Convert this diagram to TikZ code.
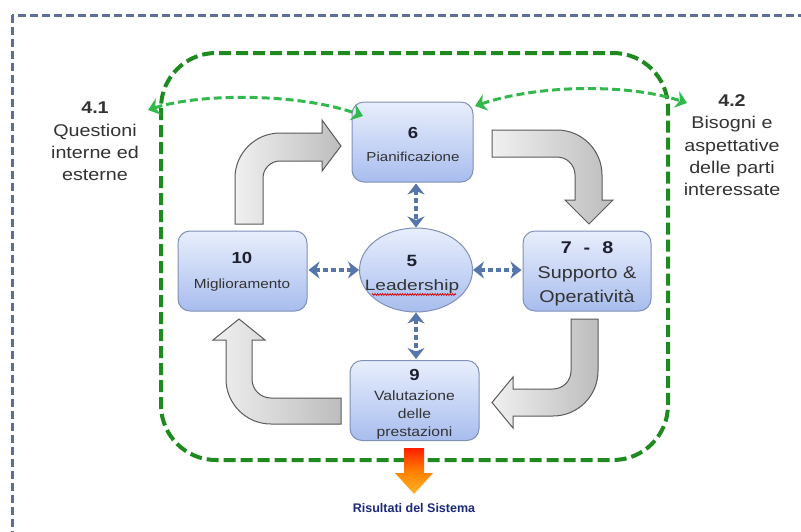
\documentclass[tikz,border=0pt]{standalone}
\usepackage{fontspec}
\setmainfont{Liberation Sans}
\newfontfamily\wfont[FakeStretch=1.16]{Liberation Sans}
\newfontfamily\wwfont[FakeStretch=1.27]{Liberation Sans}
\usetikzlibrary{arrows.meta,shapes.geometric,decorations.pathmorphing}
\definecolor{frameblue}{HTML}{5A7099}
\definecolor{dkgreen}{HTML}{1F8A1F}
\definecolor{ltgreen}{HTML}{33B84E}
\definecolor{boxtop}{HTML}{E8EEFC}
\definecolor{boxbot}{HTML}{A8BDEE}
\definecolor{boxline}{HTML}{8090B8}
\definecolor{linkblue}{HTML}{5675AA}
\definecolor{txt}{HTML}{333333}
\definecolor{numtxt}{HTML}{1E2030}
\definecolor{navy}{HTML}{1C2A7A}
\definecolor{arrlight}{HTML}{F0F0F0}
\definecolor{arrdark}{HTML}{BDBDBD}
\definecolor{arredge}{HTML}{5A5A5A}
\definecolor{resred}{HTML}{FF1E00}
\definecolor{resorange}{HTML}{FFB428}
\begin{document}
\begin{tikzpicture}[x=1pt,y=-1pt,
  procbox/.style={draw=boxline, line width=1pt, rounded corners=12pt,
    top color=boxtop, bottom color=boxbot, inner sep=0pt},
  tipb/.tip={Stealth[length=11pt,width=17pt,inset=3.5pt]},
  link/.style={draw=linkblue, line width=3.5pt, dash pattern=on 5pt off 3pt, tipb-tipb},
  envlink/.style={draw=ltgreen, line width=3pt, dash pattern=on 8pt off 4pt, tipb-tipb},
  bigarrow/.style={draw=arredge, line width=1pt, left color=arrlight, right color=arrdark},
  lbl/.style={align=center, text=txt, inner sep=0pt}
]
\useasboundingbox (0,0) rectangle (801,531);
\fill[white] (0,0) rectangle (801,531);
% outer frame
\begin{scope}
\clip (0,0) rectangle (801,531);
\draw[frameblue, line width=3pt, dash pattern=on 8pt off 4pt] (12,15) rectangle (830,560);
\end{scope}
% green system boundary
\draw[dkgreen, line width=4pt, dash pattern=on 12pt off 5pt, rounded corners=55pt] (161,53) rectangle (668,460);

% big grey cycle arrows
\draw[bigarrow] (235,224) -- (235,178) .. controls (235,153.15) and (255.15,133) .. (280,133)
  -- (322,133) -- (322,120) -- (341,146) -- (322,171) -- (322,161) -- (280,161)
  .. controls (270.6,161) and (263,168.6) .. (263,178) -- (263,224) -- cycle;
\draw[bigarrow] (492,130) -- (557,130) .. controls (581.85,130) and (602,150.15) .. (602,175)
  -- (602,200) -- (613,200) -- (589,224) -- (565,200) -- (575,200) -- (575,175)
  .. controls (575,165.1) and (566.9,157) .. (557,157) -- (492,157) -- cycle;
\draw[bigarrow] (571,319) -- (598,319) -- (598,371) .. controls (598,395.85) and (577.85,416) .. (553,416)
  -- (513,416) -- (513,428) -- (492,402.5) -- (513,377) -- (513,389) -- (553,389)
  .. controls (562.9,389) and (571,380.9) .. (571,371) -- cycle;
\draw[bigarrow] (341,398) -- (271,398) .. controls (260.5,398) and (252,389.5) .. (252,379)
  -- (252,340) -- (265,340) -- (239,319) -- (213,340) -- (226,340) -- (226,379)
  .. controls (226,403.85) and (246.15,424) .. (271,424) -- (341,424) -- cycle;

% process boxes
\node[procbox, minimum width=121pt, minimum height=80pt] (n6) at (412.5,142) {};
\node[procbox, minimum width=129pt, minimum height=80pt] (n10) at (242.5,271) {};
\node[procbox, minimum width=128pt, minimum height=80pt] (n78) at (587,271) {};
\node[procbox, minimum width=129pt, minimum height=80pt] (n9) at (414.5,400.5) {};
\node[procbox, ellipse, minimum width=113pt, minimum height=84pt, rounded corners=0pt] (n5) at (416,270) {};

% box texts
\node[lbl, font=\wfont\fontsize{13}{22.7}\selectfont] (t6) at (413,144.6)
  {{\fontsize{16}{16}\selectfont\bfseries\color{numtxt}6}\\Pianificazione};
\node[lbl, font=\wfont\fontsize{13.2}{25}\selectfont] (t10) at (242,271.9)
  {{\fontsize{16}{16}\selectfont\bfseries\color{numtxt}10}\\Miglioramento};
\node[lbl, font=\wfont\fontsize{17}{24.5}\selectfont] (t78) at (587,274.3)
  {{\bfseries\color{numtxt}7\hspace{12pt}-\hspace{12pt}8}\\Supporto \&\\Operatività};
\node[lbl, font=\wfont\fontsize{13.5}{18}\selectfont] (t9) at (414.5,404.4)
  {{\fontsize{16}{16}\selectfont\bfseries\color{numtxt}9}\\[2pt]Valutazione\\delle\\prestazioni};
\node[lbl, font=\wwfont\fontsize{15}{24}\selectfont] (t5) at (412,274.4)
  {{\wfont\fontsize{16.3}{16}\selectfont\bfseries\color{numtxt}5}\\Leadership};
\draw[red!85!black, line width=0.7pt, decorate,
  decoration={zigzag, segment length=2.5pt, amplitude=0.9pt}] (372,294.5) -- (456,294.5);

% leadership links
\draw[link, shorten <=1pt, shorten >=0pt] (n6.south -| n5.north) -- (n5.north);
\draw[link, shorten <=0pt, shorten >=1pt] (n5.south) -- (n5.south |- n9.north);
\draw[link, shorten <=1pt, shorten >=0pt] (n10.east |- n5.west) -- (n5.west);
\draw[link, shorten <=0pt, shorten >=1pt] (n5.east) -- (n5.east -| n78.west);

% context labels
\node[lbl, font=\wfont\fontsize{17}{22.3}\selectfont] (l41) at (95,141.5)
  {\textbf{4.1}\\Questioni\\interne ed\\esterne};
\node[lbl, font=\wfont\fontsize{17}{22.1}\selectfont] (l42) at (732,145.2)
  {\textbf{4.2}\\Bisogni e\\aspettative\\delle parti\\interessate};

% context arrows
\coordinate (a41) at (148,110);
\coordinate (a6l) at (363,116);
\coordinate (a6r) at (475,106);
\coordinate (a42) at (687,103);
\draw[envlink] (a41) .. controls (200,93) and (300,93) .. (a6l);
\draw[envlink] (a6r) .. controls (540,84) and (630,84) .. (a42);

% results arrow
\shade[top color=resred, bottom color=resorange, middle color=orange]
  (404,448) -- (424,448) -- (424,473) -- (433,473) -- (414,494) -- (395,473) -- (404,473) -- cycle;
\node[font=\fontsize{12.5}{15}\selectfont\bfseries, text=navy, inner sep=0pt] (res) at (414,508)
  {Risultati del Sistema};
\end{tikzpicture}
\end{document}
